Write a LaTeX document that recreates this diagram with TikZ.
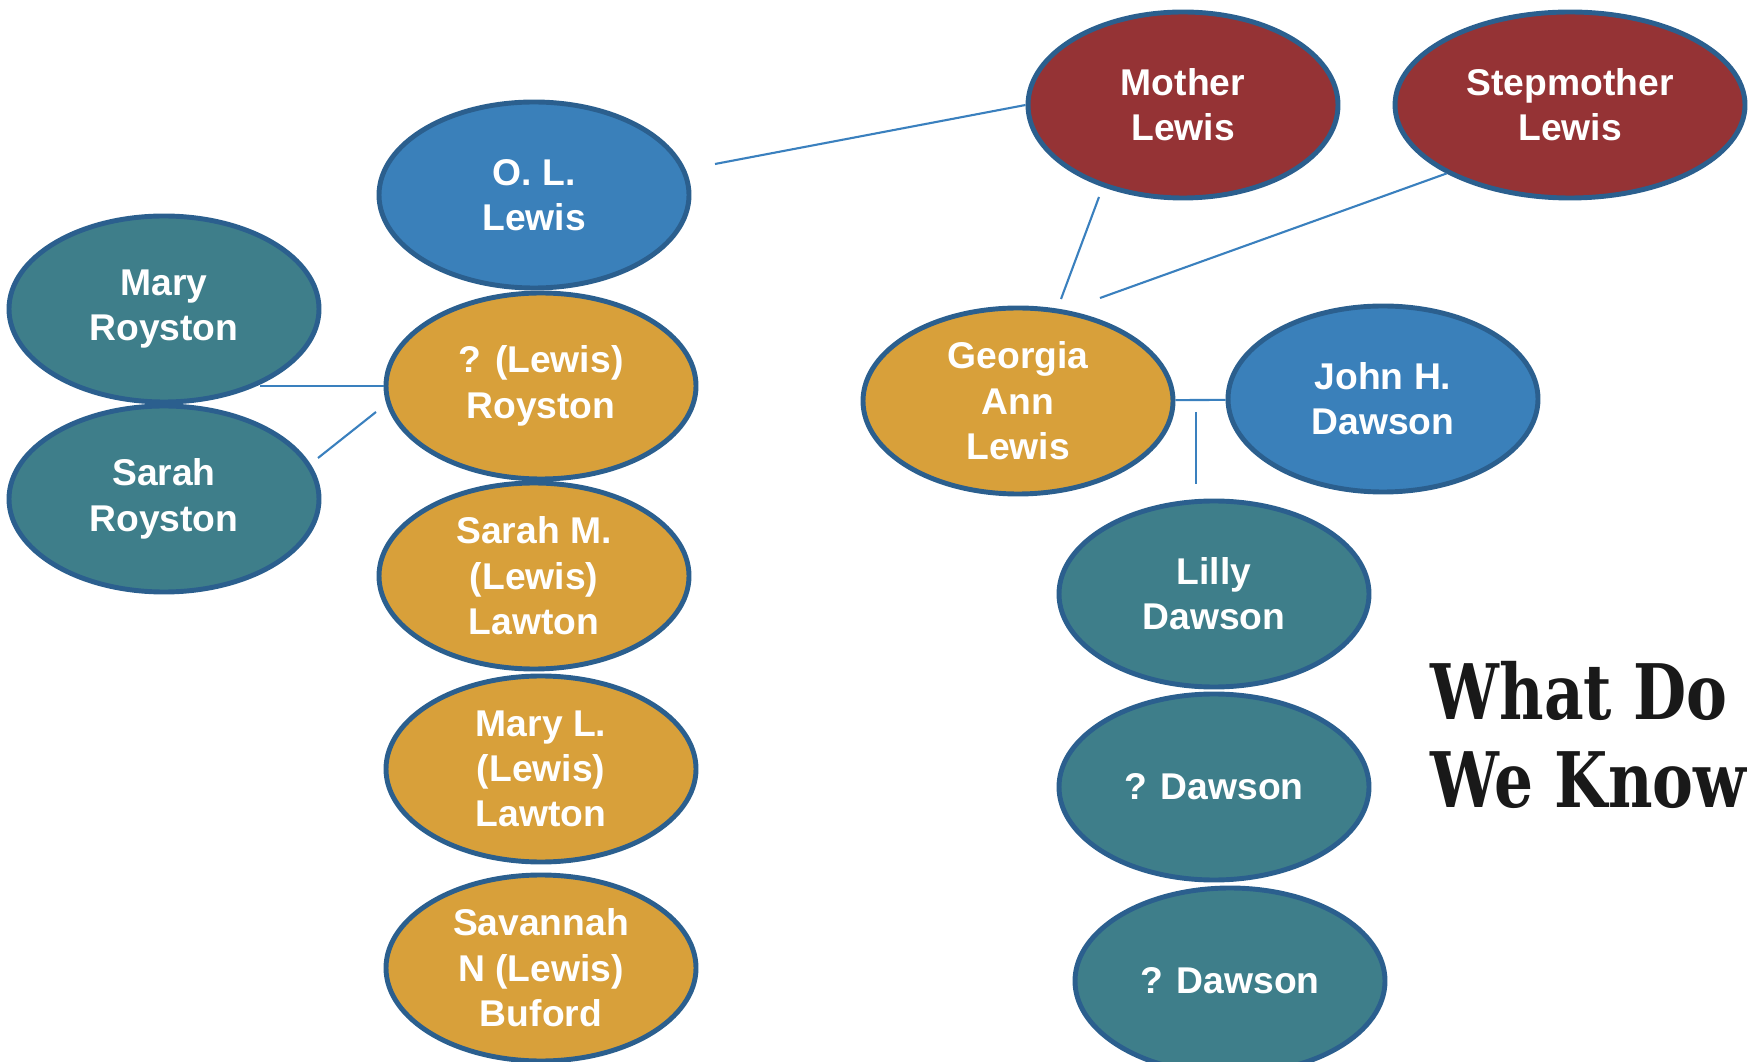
\documentclass[tikz,border=0pt]{standalone}
\usepackage{fontspec}
\setmainfont{Liberation Sans}
\newfontfamily\slabfont{DejaVu Serif}[FakeStretch=0.8]
\usepackage{xcolor}
\usetikzlibrary{shapes.geometric}

\definecolor{famteal}{RGB}{62,126,138}
\definecolor{famblue}{RGB}{58,128,186}
\definecolor{famgold}{RGB}{216,160,58}
\definecolor{famred}{RGB}{149,51,53}
\definecolor{famedge}{RGB}{43,95,142}
\definecolor{famline}{RGB}{58,128,190}

\tikzset{
  person/.style={ellipse, draw=famedge, line width=1.4pt, minimum width=31mm,
    minimum height=18.6mm, inner sep=0pt, align=center, text=white,
    font=\fontsize{10.6}{12.9}\selectfont\bfseries},
  kin/.style={person, fill=famteal},
  spouse/.style={person, fill=famblue},
  sibling/.style={person, fill=famgold},
  parent/.style={person, fill=famred},
  link/.style={draw=famline, line width=0.6pt},
}

\begin{document}
\begin{tikzpicture}[x=0.1mm, y=-0.1mm]
    \useasboundingbox (0,0) rectangle (1748,1062);
    % Lewis side
    \node[spouse] (ol) at (534,195) {O. L.\\Lewis};
    \node[kin] (maryr) at (164,309) {Mary\\Royston};
    \node[kin] (sarahr) at (164,499) {Sarah\\Royston};
    \node[sibling] (lroyston) at (541,386) {? (Lewis)\\Royston};
    \node[sibling] (sarahm) at (534,576) {Sarah M.\\(Lewis)\\Lawton};
    \node[sibling] (maryl) at (541,769) {Mary L.\\(Lewis)\\Lawton};
    \node[sibling] (savannah) at (541,968) {Savannah\\N (Lewis)\\Buford};
    % parents
    \node[parent] (mother) at (1183,105) {Mother\\Lewis};
    \node[parent, minimum width=35mm] (stepmother) at (1570,105) {Stepmother\\Lewis};
    % Dawson side
    \node[sibling] (georgia) at (1018,401) {Georgia\\Ann\\Lewis};
    \node[spouse] (john) at (1383,399) {John H.\\Dawson};
    \node[kin] (lilly) at (1214,594) {Lilly\\Dawson};
    \node[kin] (dawsona) at (1214,787) {? Dawson};
    \node[kin] (dawsonb) at (1230,981) {? Dawson};
    % title
    \node[anchor=base west, inner sep=0pt, text=black!90,
      font=\fontsize{21.8}{25}\slabfont\bfseries] (titlea) at (1430,719) {What Do};
    \node[anchor=base west, inner sep=0pt, text=black!90,
      font=\fontsize{21.8}{25}\slabfont\bfseries] (titleb) at (1430,807) {We Know};

    % free line ends
    \coordinate (olgap) at (715,164);
    \coordinate (mothergap) at (1099,197);
    \coordinate (georgiagapa) at (1061,299);
    \coordinate (georgiagapb) at (1100,298);
    \coordinate (childtop) at (1196,412);
    \coordinate (childbot) at (1196,484);
    \coordinate (marygap) at (260,386);
    \coordinate (sarahgap) at (318,458);
    \coordinate (roystongap) at (376,412);

    \draw[link] (olgap) -- (mother.west);
    \draw[link] (mothergap) -- (georgiagapa);
    \draw[link] (stepmother.-151) -- (georgiagapb);
    \draw[link] (georgia) -- (john);
    \draw[link] (childtop) -- (childbot);
    \draw[link] (marygap) -- (lroyston.west);
    \draw[link] (sarahgap) -- (roystongap);
\end{tikzpicture}
\end{document}
